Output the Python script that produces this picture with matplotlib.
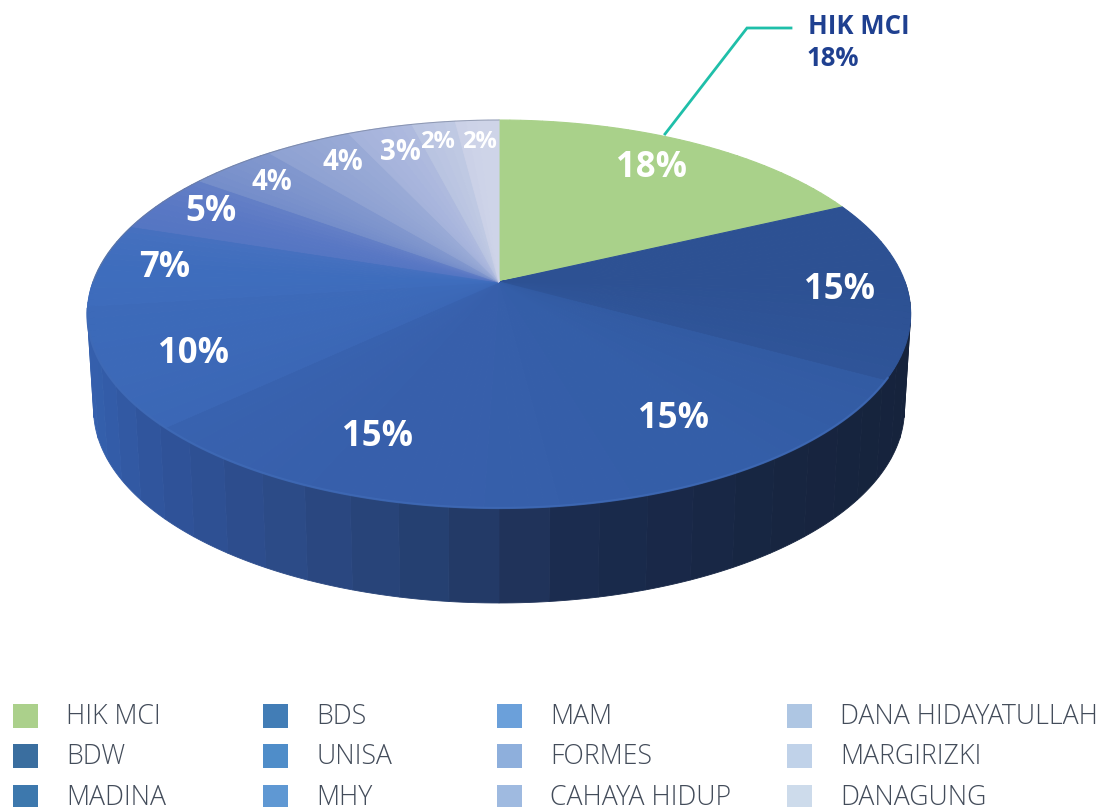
import numpy as np
import matplotlib
matplotlib.use("Agg")
import matplotlib.pyplot as plt
from matplotlib.colors import LinearSegmentedColormap, to_rgb

names = ["HIK MCI", "BDW", "MADINA", "BDS", "UNISA", "MHY", "MAM", "FORMES",
         "CAHAYA HIDUP", "DANA HIDAYATULLAH", "MARGIRIZKI", "DANAGUNG"]
shares = [18, 15, 15, 15, 10, 7, 5, 4, 4, 3, 2, 2]

top_colors = ["#a9d18a", "#2d5193", "#345ea8", "#375fab", "#3c69b8", "#3e6dbd",
              "#5a78c4", "#7c93cc", "#94a6d4", "#a9b6dd", "#bcc6e2", "#ced4e8"]
legend_colors = ["#abd08b", "#3a6e9f", "#3d78ad", "#427db6", "#4f8dc9", "#5f98d3",
                 "#6ba0da", "#8eafdc", "#9fbae0", "#aec6e3", "#c0d2e9", "#cddbeb"]

label_xy = [(651, 168), (839, 290), (673, 419), (378, 437), (193, 354), (165, 268),
            (211, 212), (272, 183), (343, 163), (400, 152), (437, 142), (479, 142)]
label_size = [25, 25, 25, 25, 25, 25, 25, 20, 20, 20, 17, 17]

legend_x = [13, 263, 497, 787]
legend_y = [716, 756, 797]

font = "Open Sans"

# pie tilt, center of the circle goes to the apex
cx, cy = 499, 282
bx, ay, k = 406, 188.7, 0.165
depth = 95


def project(t, r=1.0):
    # t = clockwise angle from 12 o'clock, radians
    u = r * np.sin(t)
    v = r * np.cos(t)
    d = 1 + k * v
    return cx + bx * u / d, cy - ay * v / d


fig = plt.figure(figsize=(10.99, 8.07), dpi=100)
ax = fig.add_axes([0, 0, 1, 1])
ax.set_xlim(0, 1099)
ax.set_ylim(807, 0)
ax.axis("off")

edges = np.cumsum([0] + shares) / sum(shares) * 2 * np.pi
mids = (edges[:-1] + edges[1:]) / 2
rgb = np.array([to_rgb(c) for c in top_colors])

# side wall, stepped shading from left to right
wall = LinearSegmentedColormap.from_list(
    "wall", [(0, "#3560ad"), (0.08, "#2f539b"), (0.25, "#2c4a85"), (0.45, "#233d6c"),
             (0.5, "#22365f"), (0.6, "#1a2b4e"), (0.85, "#172540"), (1, "#16233c")])
steps = np.radians(np.arange(90, 274, 6))
for t0, t1 in zip(steps[:-1], steps[1:]):
    ts = np.linspace(t0, t1, 8)
    x, y = project(ts)
    xb = cx + (x - cx) * 0.985
    yb = y + depth
    c = wall((x.mean() - 87) / 824)
    ax.fill(np.r_[x, xb[::-1]], np.r_[y, yb[::-1]], color=c, lw=0.6, zorder=2)

# top face, half slice colour and half soft blend so the wedges still show
for i, share in enumerate(shares):
    a0, a1 = edges[i], edges[i + 1]
    n = max(3, share * 2)
    cuts = np.linspace(a0, a1, n + 1)
    for j in range(n):
        ts = np.linspace(cuts[j], cuts[j + 1], 8)
        x, y = project(ts)
        if i == 0:
            c = rgb[0]
        else:
            t = (cuts[j] + cuts[j + 1]) / 2
            soft = np.array([np.interp(t, mids[1:], rgb[1:, ch]) for ch in range(3)])
            c = 0.5 * soft + 0.5 * rgb[i]
        ax.fill(np.r_[cx, x], np.r_[cy, y], color=c, lw=0.8, zorder=3)

# lighter front rim
ts = np.radians(np.linspace(118, 262, 120))
x, y = project(ts)
ax.plot(x, y, color="#3f6ab6", lw=1.6, alpha=0.8, zorder=4)
ts = np.radians(np.linspace(270, 360, 80))
x, y = project(ts)
ax.plot(x, y, color="#6f7a92", lw=0.7, alpha=0.6, zorder=4)

for share, xy, size in zip(shares, label_xy, label_size):
    ax.text(xy[0], xy[1], f"{share}%", color="white", fontsize=size, fontweight="bold",
            family=font, ha="center", va="center", zorder=5)

# callout
ax.plot([665, 747, 791], [134, 28, 28], color="#1fbfa9", lw=2, zorder=5,
        solid_joinstyle="miter")
ax.text(808, 27, names[0], color="#1f4090", fontsize=18.5, fontweight="bold", family=font,
        ha="left", va="center")
ax.text(807, 58, f"{shares[0]}%", color="#1f4090", fontsize=18.5, fontweight="bold", family=font,
        ha="left", va="center")

# legend, filled column by column
for i, name in enumerate(names):
    col, row = i // 3, i % 3
    x0 = legend_x[col]
    y0 = legend_y[row]
    ax.fill([x0, x0 + 25, x0 + 25, x0], [y0 - 12, y0 - 12, y0 + 12, y0 + 12],
            color=legend_colors[i], lw=0)
    ax.text(x0 + 53.5, y0 + 1, name, color="#434c5a", fontsize=19.2,
            fontweight="light", family=font, ha="left", va="center")

fig.savefig("out.png", dpi=100)
